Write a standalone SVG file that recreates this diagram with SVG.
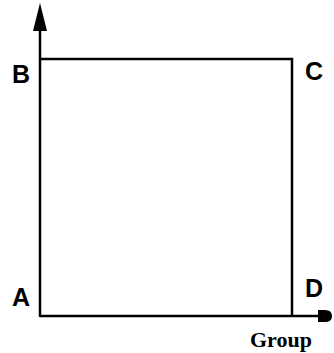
<svg xmlns="http://www.w3.org/2000/svg" width="334" height="353" viewBox="0 0 334 353">
<style>
.ln{stroke:#000;stroke-width:2.5;fill:none}
.lb{font-family:"Liberation Sans",Arial,sans-serif;font-weight:bold;font-size:25px;fill:#000}
.gp{font-family:"Liberation Serif","Times New Roman",serif;font-weight:bold;font-size:22px;fill:#000}
</style>
<rect width="334" height="353" fill="#fff"/>
<g id="connectors">
<line class="ln" x1="40" y1="317" x2="40" y2="26"/>
<polygon points="40,3 33,31 47,31" fill="#000"/>
<line class="ln" x1="40" y1="316" x2="320" y2="316"/>
<path d="M318,310 L325,310 Q332,310 332,316 Q332,322 325,322 L318,322 Z" fill="#000"/>
</g>
<g id="box">
<polyline class="ln" points="40,59 292,59 292,316"/>
</g>
<g id="B"><text class="lb" x="12" y="83">B</text></g>
<g id="C"><text class="lb" x="305" y="80">C</text></g>
<g id="A"><text class="lb" x="12" y="306">A</text></g>
<g id="D"><text class="lb" x="305" y="297">D</text></g>
<g id="group"><text class="gp" x="250" y="347">Group</text></g>
</svg>
